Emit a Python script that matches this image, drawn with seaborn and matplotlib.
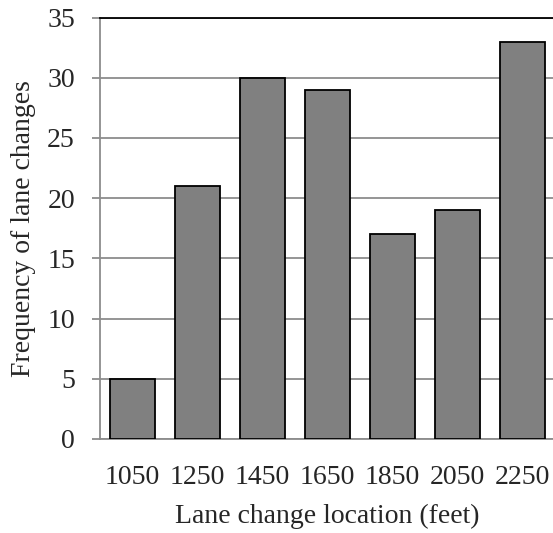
import matplotlib
matplotlib.use("Agg")
import matplotlib.pyplot as plt
import seaborn as sns
import pandas as pd

# Data
locations = ["1050", "1250", "1450", "1650", "1850", "2050", "2250"]
frequencies = [5, 21, 30, 29, 17, 19, 33]

df = pd.DataFrame({"location": locations, "frequency": frequencies})

sns.set_style("white")
plt.rcParams["font.family"] = ["Liberation Serif", "DejaVu Serif"]

fig = plt.figure(figsize=(5.53, 5.33), dpi=100)
ax = fig.add_axes([100 / 553, 94 / 533, 455 / 553, 421.5 / 533])

sns.barplot(data=df, x="location", y="frequency", color="#808080",
            saturation=1, width=0.68, edgecolor="black", linewidth=1.3,
            ax=ax, zorder=3)

ax.set_xlim(-0.5, 6.5)
ax.set_ylim(0, 35)
ax.set_yticks(range(0, 36, 5))
ax.yaxis.grid(True, color="#8c8c8c", linewidth=1.3, zorder=0)
ax.set_axisbelow(True)

for side in ["left", "bottom"]:
    ax.spines[side].set_color("#8c8c8c")
    ax.spines[side].set_linewidth(1.3)
ax.spines["top"].set_color("black")
ax.spines["top"].set_linewidth(1.3)
ax.spines["right"].set_visible(False)

ax.tick_params(axis="y", left=True, length=6, width=1.3, color="#8c8c8c",
               labelsize=20, pad=12)
ax.tick_params(axis="x", bottom=False, labelsize=20, pad=15)

ax.set_xlabel("Lane change location (feet)", fontsize=20, labelpad=10)
ax.set_ylabel("Frequency of lane changes", fontsize=20, labelpad=8)

fig.savefig("out.png", dpi=100)
